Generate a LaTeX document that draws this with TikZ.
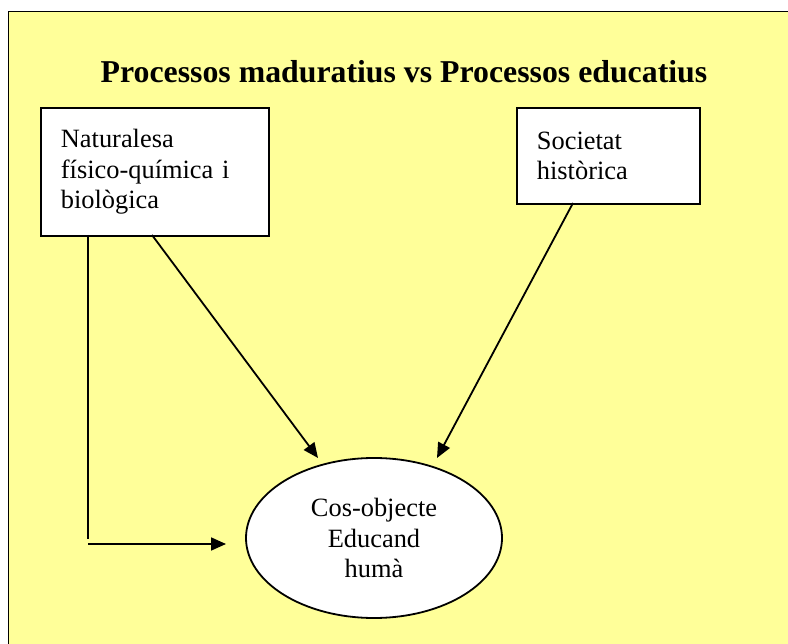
\documentclass[tikz,border=0pt]{standalone}
\usepackage{fontspec}
\setmainfont{Liberation Serif}
\usetikzlibrary{shapes.geometric,arrows.meta}
\definecolor{paper}{HTML}{FFFF99}
\begin{document}
\begin{tikzpicture}[x=1pt,y=-1pt,
  box/.style={draw=black,line width=1.8pt,fill=white,anchor=north west,
    align=left,inner xsep=20pt,inner ysep=0pt,
    font=\fontsize{26.4}{30.4}\selectfont},
  oval/.style={ellipse,draw=black,line width=1.8pt,fill=white,inner sep=0pt,
    align=center,font=\fontsize{26.4}{30.4}\selectfont},
  conn/.style={line width=1.8pt},
  arr/.style={conn,-{Triangle[length=15pt,width=13pt]}}]
  \useasboundingbox (0,0) rectangle (788,644);
  % yellow sheet, its right and bottom edges run off the page
  \begin{scope}
    \clip (0,0) rectangle (788,644);
    \draw[line width=1.8pt,fill=paper] (8.5,11.5) rectangle (820,680);
  \end{scope}
  % title
  \node[font=\bfseries\fontsize{31.8}{36}\selectfont,anchor=base] (title) at (404,83)
    {Processos maduratius vs Processos educatius};
  % sources
  \node[box,text width=188pt,minimum height=128pt] (nat) at (40,107)
    {Naturalesa\\físico-química i\\biològica\\[-8pt]};
  \node[box,text width=143pt,minimum height=96pt] (soc) at (516,107)
    {Societat\\històrica\\[-5pt]};
  % target
  \node[oval,minimum width=256pt,minimum height=160pt] (cos) at (374,538)
    {Cos-objecte\\Educand\\humà};
  % arrow ends
  \coordinate (natA) at (152,235);
  \coordinate (natB) at (88,235);
  \coordinate (bend) at (88,539);
  \coordinate (legS) at (88,544);
  \coordinate (legT) at (226,544);
  \coordinate (tipA) at (318,458);
  \coordinate (socA) at (573,203);
  \coordinate (tipB) at (437,458);
  % connectors
  \draw[arr] (natA) -- (tipA);
  \draw[arr] (socA) -- (tipB);
  \draw[conn] (natB) -- (bend);
  \draw[arr] (legS) -- (legT);
\end{tikzpicture}
\end{document}
